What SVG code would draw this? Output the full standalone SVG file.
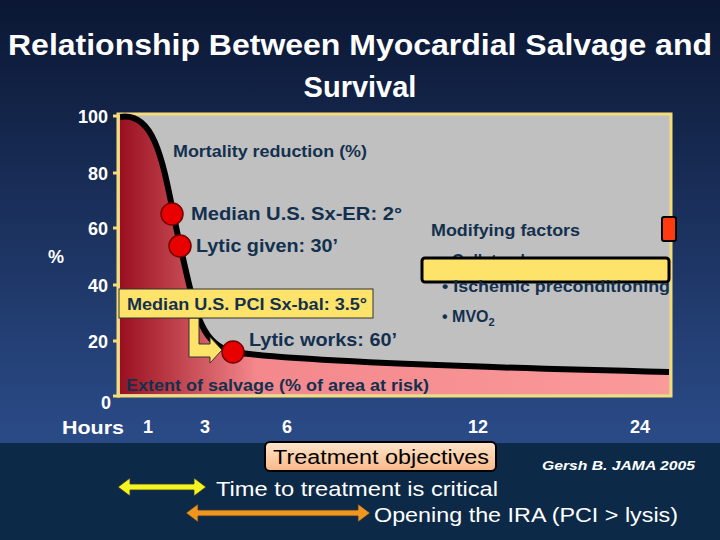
<svg xmlns="http://www.w3.org/2000/svg" width="720" height="540" viewBox="0 0 720 540">
<defs>
<linearGradient id="bg" x1="0" y1="0" x2="0" y2="1"><stop offset="0" stop-color="#0b1733"/><stop offset="0.8" stop-color="#2a4a86"/></linearGradient>
<linearGradient id="red" x1="0" y1="0" x2="1" y2="0"><stop offset="0" stop-color="#9a1020"/><stop offset="0.25" stop-color="#f4888c"/><stop offset="1" stop-color="#fa9a9a"/></linearGradient>
<linearGradient id="tobj" x1="0" y1="0" x2="0" y2="1"><stop offset="0" stop-color="#ffe6cc"/><stop offset="1" stop-color="#f8b888"/></linearGradient>
<style>
.ax{font-family:"Liberation Sans",Arial,sans-serif;font-weight:bold;font-size:18px;fill:#fff}
.lb{font-family:"Liberation Sans",Arial,sans-serif;font-weight:bold;fill:#13304f}
.dot{fill:#e80000;stroke:#700;stroke-width:1.5}
.w{font-family:"Liberation Sans",Arial,sans-serif;font-size:21px;fill:#fff}
</style>
</defs>
<rect width="720" height="540" fill="url(#bg)"/>
<rect x="0" y="443" width="720" height="97" fill="#0c2a48"/>
<text x="8" y="55" textLength="704" lengthAdjust="spacingAndGlyphs" font-family="Liberation Sans,Arial,sans-serif" font-weight="bold" font-size="29" fill="#fff">Relationship Between Myocardial Salvage and</text>
<text x="360" y="97" text-anchor="middle" font-family="Liberation Sans,Arial,sans-serif" font-weight="bold" font-size="29" fill="#fff">Survival</text>
<g id="plot">
<rect x="118" y="114" width="553" height="282" fill="#c0c0c0" stroke="#f6dc78" stroke-width="3"/>
<path d="M120,117 C160,110 165,180 180,245 C195,310 200,345 233,352 C300,362 500,368 669,372 L669,394 L120,394 Z" fill="url(#red)"/>
<path d="M120,117 C160,110 165,180 180,245 C195,310 200,345 233,352 C300,362 500,368 669,372" fill="none" stroke="#000" stroke-width="6"/>
</g>
<g id="axes">
<g stroke="#f6dc78" stroke-width="3"><line x1="113" y1="116" x2="120" y2="116"/><line x1="113" y1="173" x2="120" y2="173"/><line x1="113" y1="228" x2="120" y2="228"/><line x1="113" y1="285" x2="120" y2="285"/><line x1="113" y1="341" x2="120" y2="341"/><line x1="113" y1="396" x2="120" y2="396"/></g>
<text class="ax" x="78" y="123">100</text><text class="ax" x="88" y="180">80</text><text class="ax" x="88" y="235">60</text><text class="ax" x="88" y="292">40</text><text class="ax" x="88" y="348">20</text><text class="ax" x="101" y="409">0</text>
<text class="ax" x="48" y="263">%</text>
<text class="ax" x="62" y="434" textLength="62" lengthAdjust="spacingAndGlyphs">Hours</text><text class="ax" x="143" y="433">1</text><text class="ax" x="200" y="433">3</text><text class="ax" x="282" y="433">6</text><text class="ax" x="468" y="433">12</text><text class="ax" x="630" y="433">24</text>
</g>
<text class="lb" x="173" y="157" font-size="16" textLength="194" lengthAdjust="spacingAndGlyphs">Mortality reduction (%)</text>
<g id="n1"><circle class="dot" cx="172" cy="214" r="11"/><text class="lb" x="191" y="220" font-size="19" textLength="211" lengthAdjust="spacingAndGlyphs">Median U.S. Sx-ER: 2°</text></g>
<g id="n2"><circle class="dot" cx="180" cy="246" r="11"/><text class="lb" x="196" y="252" font-size="19" textLength="142" lengthAdjust="spacingAndGlyphs">Lytic given: 30’</text></g>
<g id="n3"><circle class="dot" cx="233" cy="352" r="11"/><text class="lb" x="249" y="346" font-size="19" textLength="148" lengthAdjust="spacingAndGlyphs">Lytic works: 60’</text></g>
<g id="n4"><path d="M189,318 V357 H210 V363 L222,350 L210,337 V344 H199 V318 Z" fill="#fde36a" stroke="#333" stroke-width="1"/>
<rect x="119" y="289" width="254" height="29" fill="#fde36a" stroke="#333"/><text class="lb" x="127" y="310" font-size="16" textLength="240" lengthAdjust="spacingAndGlyphs">Median U.S. PCI Sx-bal: 3.5°</text></g>
<text class="lb" x="126" y="391" font-size="16" textLength="303" lengthAdjust="spacingAndGlyphs">Extent of salvage (% of area at risk)</text>
<g id="mod"><text class="lb" x="431" y="236" font-size="16" textLength="149" lengthAdjust="spacingAndGlyphs">Modifying factors</text>
<text class="lb" x="442" y="266" font-size="16">• Collaterals</text>
<rect x="422" y="258" width="247" height="24" rx="3" fill="#fde36a" stroke="#000" stroke-width="3"/>
<text class="lb" x="442" y="292" font-size="16" textLength="228" lengthAdjust="spacingAndGlyphs">• Ischemic preconditioning</text>
<text class="lb" x="442" y="322" font-size="16">• MVO<tspan font-size="11" dy="4">2</tspan></text></g>
<rect x="662" y="217" width="14" height="24" rx="2" fill="#ff3a10" stroke="#000" stroke-width="2"/>
<g id="tobj"><rect x="265" y="442" width="231" height="29" rx="5" fill="url(#tobj)" stroke="#000" stroke-width="2"/><text x="273" y="464" textLength="216" lengthAdjust="spacingAndGlyphs" font-family="Liberation Sans,Arial,sans-serif" font-size="20" fill="#000">Treatment objectives</text></g>
<text x="542" y="470" textLength="153" lengthAdjust="spacingAndGlyphs" font-family="Liberation Sans,Arial,sans-serif" font-weight="bold" font-style="italic" font-size="13" fill="#fff">Gersh B. JAMA 2005</text>
<g id="connectors">
<path d="M118,487 L130,478 V484 H194 V478 L206,487 L194,496 V490 H130 V496 Z" fill="#f4f420" stroke="#333" stroke-width="0.8"/>
<path d="M186,513 L198,504 V510 H358 V504 L370,513 L358,522 V516 H198 V522 Z" fill="#f0961e" stroke="#333" stroke-width="0.8"/>
</g>
<text class="w" x="216" y="496" textLength="282" lengthAdjust="spacingAndGlyphs">Time to treatment is critical</text>
<text class="w" x="374" y="522" textLength="304" lengthAdjust="spacingAndGlyphs">Opening the IRA (PCI &gt; lysis)</text>
</svg>
